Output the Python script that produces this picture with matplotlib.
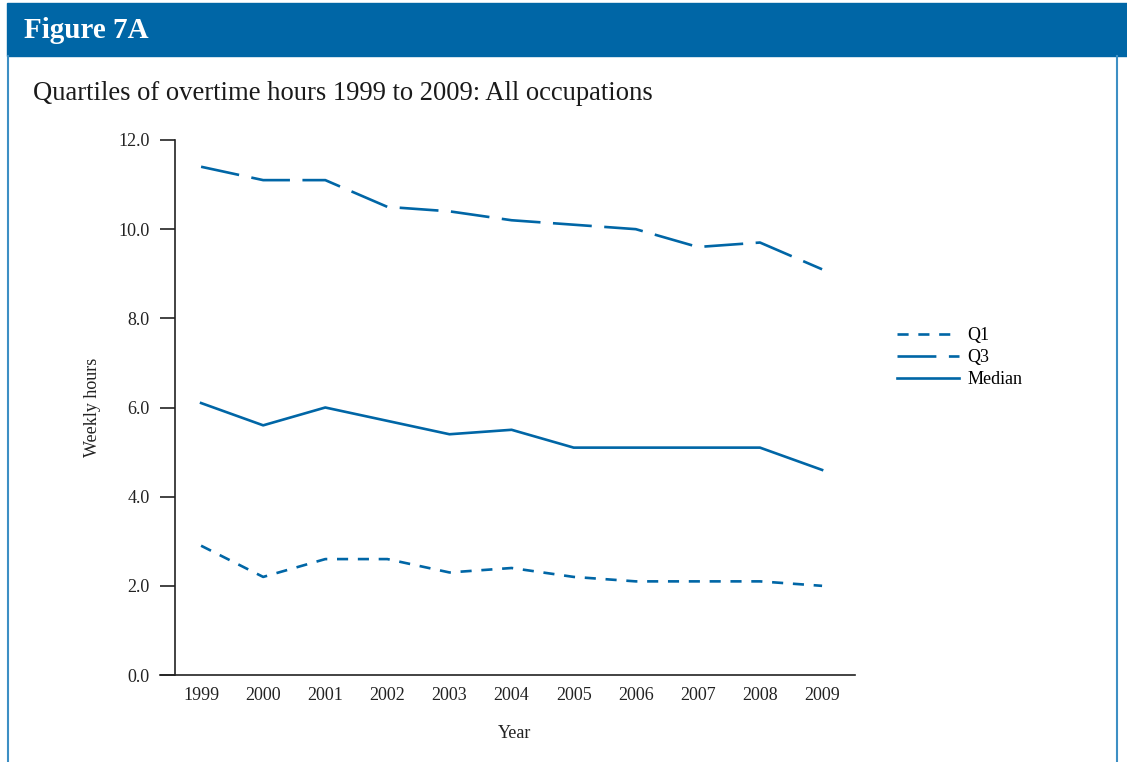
import numpy as np
import matplotlib
matplotlib.use("Agg")
import matplotlib.pyplot as plt
from matplotlib.patches import Rectangle
from matplotlib.lines import Line2D

years = [1999, 2000, 2001, 2002, 2003, 2004, 2005, 2006, 2007, 2008, 2009]
q1 = [2.9, 2.2, 2.6, 2.6, 2.3, 2.4, 2.2, 2.1, 2.1, 2.1, 2.0]
q3 = [11.4, 11.1, 11.1, 10.5, 10.4, 10.2, 10.1, 10.0, 9.6, 9.7, 9.1]
median = [6.1, 5.6, 6.0, 5.7, 5.4, 5.5, 5.1, 5.1, 5.1, 5.1, 4.6]

blue = '#0066a6'
border = '#3d8fc4'

plt.rcParams['font.family'] = ['Liberation Serif', 'DejaVu Serif']
plt.rcParams['lines.scale_dashes'] = False

W, H = 1127, 762
fig = plt.figure(figsize=(W / 100, H / 100), dpi=100)

# header band and frame
fig.patches.append(Rectangle((7 / W, 1 - 56 / H), 1 - 7 / W, 53 / H,
                             transform=fig.transFigure, color='#0066a6', zorder=0))
fig.lines.append(Line2D([8 / W, 8 / W], [0, 1 - 56 / H], transform=fig.transFigure,
                        color=border, lw=1.5))
fig.lines.append(Line2D([1117 / W, 1117 / W], [0, 1 - 56 / H], transform=fig.transFigure,
                        color=border, lw=1.5))
fig.text(24 / W, 1 - 30 / H, 'Figure 7A', color='white', fontsize=21,
         fontweight='bold', va='center', ha='left')
fig.text(33 / W, 1 - 93 / H, 'Quartiles of overtime hours 1999 to 2009: All occupations',
         fontsize=19.2, va='center', ha='left', color='#1a1a1a')

ax = fig.add_axes([175 / W, 1 - 675 / H, 680 / W, 535 / H])

l1, = ax.plot(years, q1, color=blue, lw=1.9, linestyle=(0, (8, 7)))
l3, = ax.plot(years, q3, color=blue, lw=1.9, linestyle=(0, (28, 9)))
lm, = ax.plot(years, median, color=blue, lw=1.9)

ax.set_xlim(1998.58, 2009.53)
ax.set_ylim(0, 12)
ax.set_yticks(np.arange(0, 12.1, 2))
ax.set_yticklabels(['%.1f' % v for v in np.arange(0, 12.1, 2)])
ax.set_xticks(years)
ax.set_xticklabels([str(y) for y in years])

for s in ['top', 'right']:
    ax.spines[s].set_visible(False)
for s in ['left', 'bottom']:
    ax.spines[s].set_color('#222222')
    ax.spines[s].set_linewidth(1.2)
ax.spines['bottom'].set_bounds(1998.58 - 15 / 62.1, 2009.53)

ax.tick_params(axis='y', direction='out', length=11, width=1.2, pad=7,
               labelsize=13, colors='#222222')
ax.tick_params(axis='x', length=0, pad=9, labelsize=13, colors='#222222')

ax.set_xlabel('Year', fontsize=13, labelpad=15, color='#222222')
ax.set_ylabel('Weekly hours', fontsize=13, labelpad=13, color='#222222')

leg = fig.legend([l1, l3, lm], ['Q1', 'Q3', 'Median'], loc='upper left',
                 bbox_to_anchor=(890 / W, 1 - 320 / H), frameon=False,
                 fontsize=13, handlelength=3.4, handletextpad=0.5,
                 labelspacing=0.28, borderaxespad=0)

fig.savefig('out.png', dpi=100)
